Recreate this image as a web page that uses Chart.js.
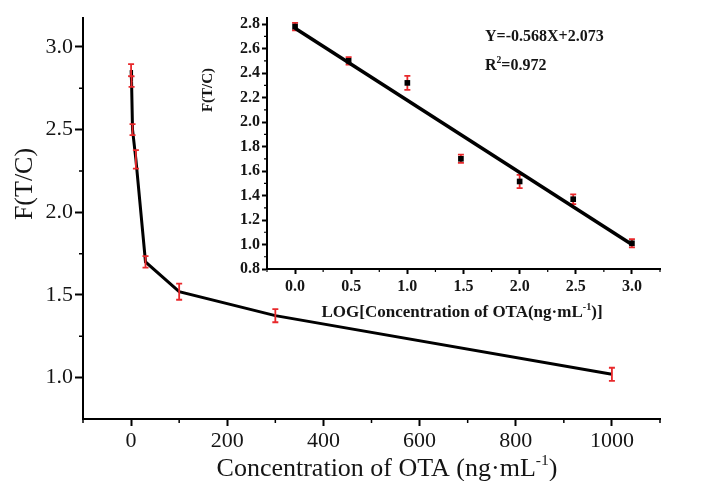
<!DOCTYPE html>
<html><head><meta charset="utf-8">
<script src="https://cdn.jsdelivr.net/npm/chart.js@4.4.0/dist/chart.umd.min.js"></script>
<style>
html,body{margin:0;padding:0;background:#fff;}
#wrap{position:relative;width:715px;height:481px;overflow:hidden;}
#wrap canvas{position:absolute;left:0;top:0;}
#inset{pointer-events:none;}
</style></head><body>
<div id="wrap"><canvas id="main" width="715" height="481"></canvas><canvas id="inset" width="715" height="481"></canvas></div>
<script>
// ---------- data ----------
const concentrations = [0, 1, 3, 10, 30, 100, 300, 1000];
const ratioValues    = [2.86, 2.79, 2.50, 2.32, 1.70, 1.52, 1.375, 1.02];
const ratioErrors    = [0.036, 0.032, 0.033, 0.056, 0.035, 0.049, 0.04, 0.04];

const logConcentrations = [0, 0.477, 1, 1.477, 2, 2.477, 3];
const logRatioValues    = [2.78, 2.50, 2.32, 1.70, 1.515, 1.37, 1.01];
const logRatioErrors    = [0.03, 0.03, 0.057, 0.034, 0.054, 0.04, 0.034];
const fitX = [0, 3];
const fitY = [2.767, 1.0];

const mainXTicks = [0, 200, 400, 600, 800, 1000];
const mainXMinor = [-100, 100, 300, 500, 700, 900, 1100];
const mainYTicks = [1.0, 1.5, 2.0, 2.5, 3.0];
const mainYMinor = [1.25, 1.75, 2.25, 2.75];
const insetXTicks = [0, 0.5, 1.0, 1.5, 2.0, 2.5, 3.0];
const insetXMinor = [-0.25, 0.25, 0.75, 1.25, 1.75, 2.25, 2.75, 3.25];
const insetYTicks = [0.8, 1.0, 1.2, 1.4, 1.6, 1.8, 2.0, 2.2, 2.4, 2.6, 2.8];
const insetYMinor = [0.9, 1.1, 1.3, 1.5, 1.7, 1.9, 2.1, 2.3, 2.5, 2.7];

const mainXTitle = [{t: 'Concentration of OTA (ng·mL'}, {t: '-1', sup: true}, {t: ')'}];
const mainYTitle = 'F(T/C)';
const insetXTitle = [{t: 'LOG[Concentration of OTA(ng·mL'}, {t: '-1', sup: true}, {t: ')]'}];
const insetYTitle = 'F(T/C)';
const equationLine = [{t: 'Y=-0.568X+2.073'}];
const r2Line = [{t: 'R'}, {t: '2', sup: true}, {t: '=0.972'}];

// ---------- helpers ----------
const SERIF = '"Liberation Serif", "Times New Roman", serif';
const INK = '#151515';
const RED = '#e8282b';

function drawRich(ctx, parts, x, y, size, bold, align) {
  const f = (s) => (bold ? 'bold ' : '') + s + 'px ' + SERIF;
  let total = 0;
  parts.forEach(p => { ctx.font = f(p.sup ? size * 0.6 : size); p.w = ctx.measureText(p.t).width; total += p.w; });
  let cx = align === 'center' ? x - total / 2 : x;
  ctx.textAlign = 'left';
  ctx.textBaseline = 'alphabetic';
  ctx.fillStyle = INK;
  parts.forEach(p => {
    ctx.font = f(p.sup ? size * 0.6 : size);
    ctx.fillText(p.t, cx, p.sup ? y - size * 0.42 : y);
    cx += p.w;
  });
}

function minorTicks(xVals, yVals, len, width) {
  return {
    id: 'minorTicks',
    afterDraw(chart) {
      const ctx = chart.ctx, a = chart.chartArea;
      const xs = chart.scales.x, ys = chart.scales.y;
      ctx.save();
      ctx.strokeStyle = '#000'; ctx.lineWidth = width;
      ctx.beginPath();
      xVals.forEach(v => { const p = xs.getPixelForValue(v); ctx.moveTo(p, a.bottom); ctx.lineTo(p, a.bottom + len); });
      yVals.forEach(v => { const p = ys.getPixelForValue(v); ctx.moveTo(a.left, p); ctx.lineTo(a.left - len, p); });
      ctx.stroke();
      ctx.restore();
    }
  };
}

function errorBars(xVals, yVals, errs, hook) {
  const fn = function (chart) {
    const ctx = chart.ctx, xs = chart.scales.x, ys = chart.scales.y;
    ctx.save();
    ctx.strokeStyle = RED; ctx.lineWidth = 1.8;
    ctx.beginPath();
    xVals.forEach((xv, i) => {
      const px = xs.getPixelForValue(xv);
      const top = ys.getPixelForValue(yVals[i] + errs[i]);
      const bot = ys.getPixelForValue(yVals[i] - errs[i]);
      ctx.moveTo(px, top); ctx.lineTo(px, bot);
      ctx.moveTo(px - 3, top); ctx.lineTo(px + 3, top);
      ctx.moveTo(px - 3, bot); ctx.lineTo(px + 3, bot);
    });
    ctx.stroke();
    ctx.restore();
  };
  const p = {id: 'errorBars'};
  p[hook] = fn;
  return p;
}

function axisOpts(min, max, tickVals, fontSpec, tickLen, pad, fmt, fit) {
  return {
    type: 'linear', min, max,
    afterBuildTicks(s) { s.ticks = tickVals.map(v => ({value: v})); },
    afterFit: fit,
    ticks: {font: fontSpec, color: INK, padding: pad, autoSkip: false, maxRotation: 0, callback: fmt},
    grid: {display: true, drawOnChartArea: false, drawTicks: true, tickLength: tickLen, tickWidth: 2, tickColor: '#000'},
    border: {display: true, color: '#000', width: 2}
  };
}

// ---------- main chart ----------
const mainFont = {family: SERIF, size: 22};
new Chart(document.getElementById('main'), {
  type: 'scatter',
  data: {
    datasets: [{
      data: concentrations.map((c, i) => ({x: c, y: ratioValues[i]})),
      showLine: true, borderColor: '#000', borderWidth: 3, pointRadius: 0, tension: 0, fill: false
    }]
  },
  options: {
    responsive: false, animation: false, devicePixelRatio: 1,
    layout: {padding: {top: 18, right: 55, left: 0, bottom: 0}},
    plugins: {legend: {display: false}, tooltip: {enabled: false}},
    scales: {
      x: axisOpts(-100, 1100, mainXTicks, mainFont, 7, 2, v => String(v), s => { s.height = 62; }),
      y: axisOpts(0.75, 3.175, mainYTicks, mainFont, 8, 2, v => v.toFixed(1), s => { s.width = 83; })
    }
  },
  plugins: [
    {id: 'bg', beforeDraw(c) { const x = c.ctx; x.save(); x.fillStyle = '#fff'; x.fillRect(0, 0, c.width, c.height); x.restore(); }},
    minorTicks(mainXMinor, mainYMinor, 4, 1.5),
    errorBars(concentrations, ratioValues, ratioErrors, 'afterDatasetsDraw'),
    {id: 'titles', afterDraw(c) {
      const ctx = c.ctx;
      ctx.save();
      drawRich(ctx, mainXTitle, 387, 476, 26, false, 'center');
      ctx.translate(25, 184); ctx.rotate(-Math.PI / 2);
      ctx.font = '26px ' + SERIF; ctx.fillStyle = INK; ctx.textAlign = 'center'; ctx.textBaseline = 'middle';
      ctx.fillText(mainYTitle, 0, 0);
      ctx.restore();
    }}
  ]
});

// ---------- inset chart ----------
const insetFont = {family: SERIF, size: 16, weight: 'bold'};
new Chart(document.getElementById('inset'), {
  type: 'scatter',
  data: {
    datasets: [
      {
        data: logConcentrations.map((c, i) => ({x: c, y: logRatioValues[i]})),
        pointStyle: 'rect', pointRadius: 4, backgroundColor: '#000', borderColor: '#000', borderWidth: 0,
        showLine: false, order: 0
      },
      {
        data: fitX.map((c, i) => ({x: c, y: fitY[i]})),
        showLine: true, borderColor: '#000', borderWidth: 3.5, pointRadius: 0, tension: 0, fill: false, order: 1
      }
    ]
  },
  options: {
    responsive: false, animation: false, devicePixelRatio: 1,
    layout: {padding: {top: 18, right: 55, left: 0, bottom: 0}},
    plugins: {legend: {display: false}, tooltip: {enabled: false}},
    scales: {
      x: axisOpts(-0.25, 3.25, insetXTicks, insetFont, 5, 3, v => v.toFixed(1), s => { s.height = 212; }),
      y: axisOpts(0.8, 2.85, insetYTicks, insetFont, 5, 2, v => v.toFixed(1), s => { s.width = 267; })
    }
  },
  plugins: [
    minorTicks(insetXMinor, insetYMinor, 3, 1.2),
    errorBars(logConcentrations, logRatioValues, logRatioErrors, 'beforeDatasetsDraw'),
    {id: 'insetTitles', afterDraw(c) {
      const ctx = c.ctx;
      ctx.save();
      drawRich(ctx, insetXTitle, 462, 317, 17, true, 'center');
      drawRich(ctx, equationLine, 485, 41, 16, true, 'left');
      drawRich(ctx, r2Line, 485, 70, 16, true, 'left');
      ctx.translate(208, 90); ctx.rotate(-Math.PI / 2);
      ctx.font = 'bold 15px ' + SERIF; ctx.fillStyle = INK; ctx.textAlign = 'center'; ctx.textBaseline = 'middle';
      ctx.fillText(insetYTitle, 0, 0);
      ctx.restore();
    }}
  ]
});
</script>
</body></html>
